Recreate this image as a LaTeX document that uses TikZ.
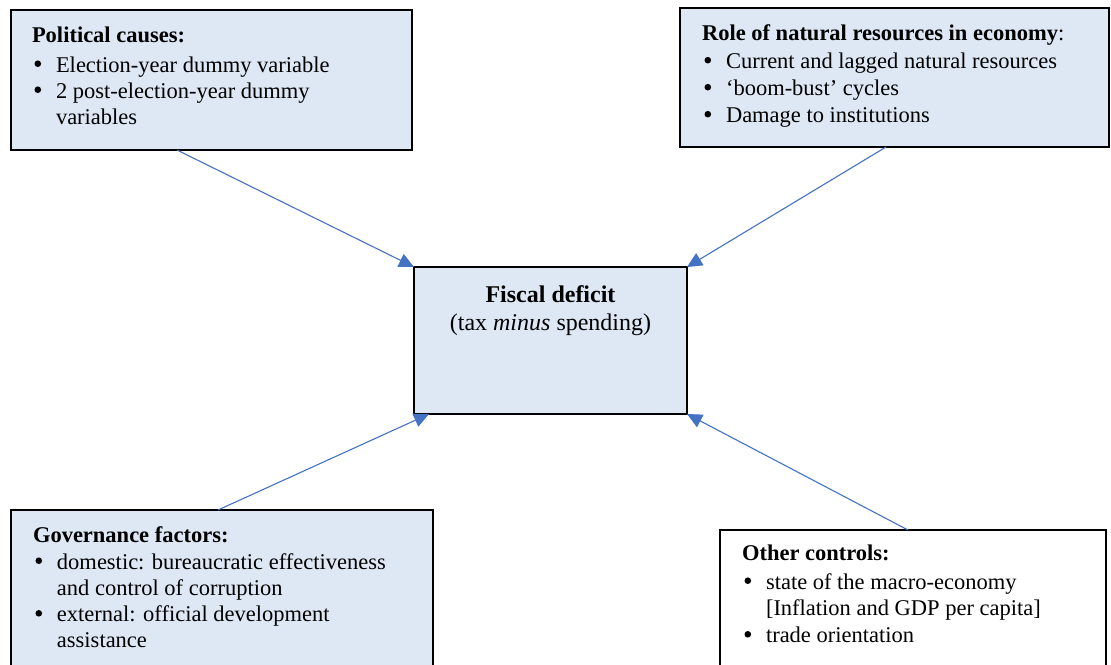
\documentclass[tikz,border=0pt]{standalone}
\usepackage{fontspec}
\setmainfont{Liberation Serif}
\usetikzlibrary{arrows.meta}
\definecolor{boxfill}{HTML}{DEE8F4}
\definecolor{arrowblue}{HTML}{4472C4}
\newcommand\blt{\tikz[baseline={(0pt,-8.3pt)}]\fill[black] (0pt,0pt) circle (3.3pt);}
\newcommand\bitem[1]{\par\hangindent=24pt\hangafter=1\noindent\makebox[24pt][l]{\hspace{2.5pt}\blt}#1}
\newcommand\boxtext[3]{\vtop{\hsize=#1\parindent=0pt\raggedright\fontsize{22.5}{#2}\selectfont #3\par}}
\begin{document}
\begin{tikzpicture}[x=1pt,y=-1pt,
  panel/.style={draw=black,line width=2.7pt,fill=boxfill,inner sep=0pt,outer sep=0pt,anchor=north west},
  txt/.style={anchor=base west,inner sep=0pt,outer sep=0pt},
  link/.style={draw=arrowblue,line width=1.1pt,-{Triangle[length=15pt,width=14pt]}}]
\clip (0,0) rectangle (1111,664);
\fill[white] (0,0) rectangle (1111,664);
% boxes
\node[panel,minimum width=401pt,minimum height=140pt] (pol) at (11,10) {};
\node[panel,minimum width=429pt,minimum height=139pt] (res) at (680,8) {};
\node[panel,minimum width=273pt,minimum height=147pt] (fis) at (414,267) {};
\node[panel,minimum width=422pt,minimum height=180pt] (gov) at (11,510) {};
\node[panel,fill=white,minimum width=386pt,minimum height=160pt] (oth) at (720,530) {};
% texts
\node[txt] (poltext) at (32,42) {\boxtext{370pt}{26}{\textbf{Political causes:}\par\vspace{4pt}
  \bitem{Election-year dummy variable}
  \bitem{2 post-election-year dummy\newline variables}}};
\node[txt] (restext) at (702,40) {\boxtext{420pt}{27}{\textbf{Role of natural resources in economy}:\par\vspace{1.5pt}
  \bitem{Current and lagged natural resources}
  \bitem{‘boom-bust’ cycles}
  \bitem{Damage to institutions}}};
\node[anchor=base,inner sep=0pt] (fistext) at (550.5,302.5) {\vtop{\hsize=260pt\centering\fontsize{24}{28}\selectfont\textbf{Fiscal deficit}\\(tax \textit{minus} spending)\par}};
\node[txt] (govtext) at (33,542) {\boxtext{395pt}{26.3}{\textbf{Governance factors:}\par\vspace{0.7pt}
  \bitem{domestic: bureaucratic effectiveness\newline and control of corruption}
  \bitem{external: official development\newline assistance}}};
\node[txt] (othtext) at (742,560) {\boxtext{360pt}{26.8}{\textbf{Other controls:}\par\vspace{2.2pt}
  \bitem{state of the macro-economy\newline [Inflation and GDP per capita]}
  \bitem{trade orientation}}};
% connectors
\draw[link] ([xshift=166pt]pol.south west) -- (fis.north west);
\draw[link] ([xshift=206pt]res.south west) -- (fis.north east);
\draw[link] ([xshift=207pt]gov.north west) -- ([xshift=15pt]fis.south west);
\draw[link] ([xshift=188pt]oth.north west) -- (fis.south east);
\end{tikzpicture}
\end{document}
